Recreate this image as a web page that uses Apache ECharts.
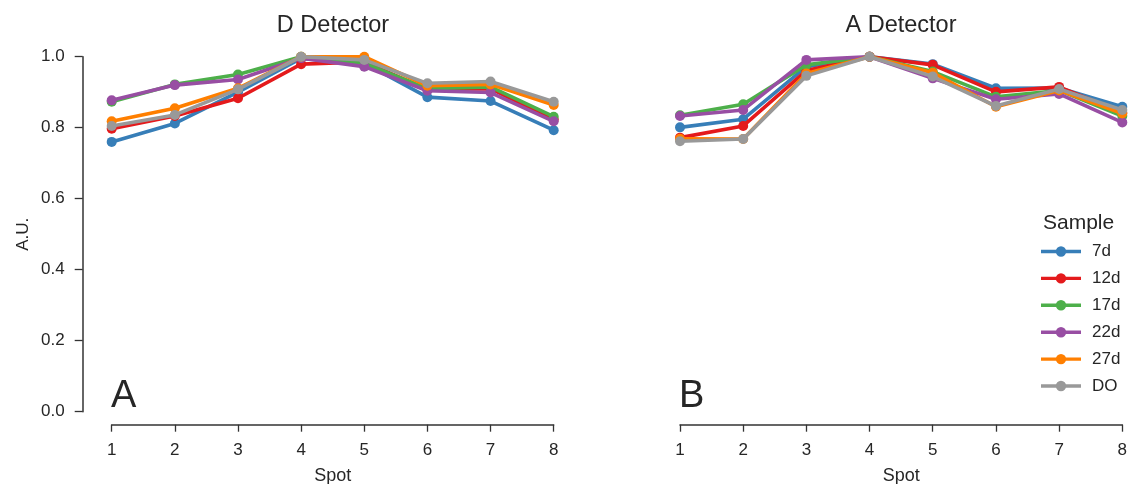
<!DOCTYPE html>
<html>
<head>
<meta charset="utf-8">
<script src="https://cdn.jsdelivr.net/npm/echarts@6/dist/echarts.min.js"></script>
<style>
  html, body { margin: 0; padding: 0; background: #fff; }
  #chart { width: 1128px; height: 484px; }
</style>
</head>
<body>
<div id="chart"></div>
<script>
// Spot positions along the x axis
const spots = [1, 2, 3, 4, 5, 6, 7, 8];

// Sample names and their colours
const samples = ['7d', '12d', '17d', '22d', '27d', 'DO'];
const colors = ['#377eb8', '#e41a1c', '#4daf4a', '#984ea3', '#ff7f00', '#999999'];

// D Detector: normalised response per sample
const d7d  = [0.760, 0.812, 0.900, 0.995, 0.982, 0.886, 0.875, 0.793];
const d12d = [0.797, 0.833, 0.883, 0.979, 0.985, 0.908, 0.910, 0.823];
const d17d = [0.873, 0.922, 0.950, 1.000, 0.982, 0.910, 0.915, 0.831];
const d22d = [0.877, 0.920, 0.936, 0.996, 0.972, 0.904, 0.899, 0.818];
const d27d = [0.818, 0.855, 0.911, 1.000, 1.000, 0.918, 0.922, 0.864];
const dDO  = [0.805, 0.836, 0.908, 1.000, 0.991, 0.925, 0.930, 0.873];

// A Detector: normalised response per sample
const a7d  = [0.801, 0.824, 0.972, 1.000, 0.979, 0.911, 0.912, 0.859];
const a12d = [0.772, 0.805, 0.961, 1.000, 0.977, 0.901, 0.915, 0.842];
const a17d = [0.835, 0.866, 0.977, 1.000, 0.958, 0.887, 0.905, 0.833];
const a22d = [0.833, 0.850, 0.991, 1.000, 0.939, 0.880, 0.895, 0.815];
const a27d = [0.769, 0.768, 0.953, 1.000, 0.955, 0.859, 0.905, 0.840];
const aDO  = [0.762, 0.768, 0.946, 1.000, 0.944, 0.861, 0.909, 0.850];

const dSeries = [d7d, d12d, d17d, d22d, d27d, dDO];
const aSeries = [a7d, a12d, a17d, a22d, a27d, aDO];

const FONT = '"Liberation Sans", Arial, sans-serif';
const TEXT = '#262626';
const AXIS = '#333333';

function xAxisFor(gridIndex) {
  return {
    type: 'value', gridIndex, min: 1, max: 8, interval: 1,
    offset: 13,
    name: 'Spot', nameLocation: 'middle', nameGap: 42,
    nameTextStyle: { color: TEXT, fontSize: 18, fontFamily: FONT },
    axisLine: { show: true, onZero: false, lineStyle: { color: AXIS, width: 1.5 } },
    axisTick: { show: true, length: 7, lineStyle: { color: AXIS, width: 1.3 } },
    axisLabel: { color: TEXT, fontSize: 17, fontFamily: FONT, margin: 17 },
    splitLine: { show: false }
  };
}

function yAxisFor(gridIndex, visible) {
  return {
    type: 'value', gridIndex, min: 0, max: 1, interval: 0.2,
    show: visible,
    offset: 29,
    name: 'A.U.', nameLocation: 'middle', nameGap: 51, nameRotate: 90,
    nameTextStyle: { color: TEXT, fontSize: 17, fontFamily: FONT },
    axisLine: { show: true, onZero: false, lineStyle: { color: AXIS, width: 1.5 } },
    axisTick: { show: true, length: 8, lineStyle: { color: AXIS, width: 1.3 } },
    axisLabel: {
      color: TEXT, fontSize: 17, fontFamily: FONT, margin: 18,
      formatter: v => v.toFixed(1)
    },
    splitLine: { show: false }
  };
}

function buildSeries(values, idx) {
  return values.map((vals, i) => ({
    name: samples[i],
    type: 'line',
    xAxisIndex: idx, yAxisIndex: idx,
    data: spots.map((s, k) => [s, vals[k]]),
    color: colors[i],
    lineStyle: { width: 3.6, color: colors[i] },
    symbol: 'circle', symbolSize: 10,
    itemStyle: { color: colors[i] },
    emphasis: { disabled: true },
    z: 2 + i
  }));
}

// legend marker: a short line with a dot in the middle
const legendIcon = 'path://M0,3.5h40v3.4h-40z M14.8,5.2a5.2,5.2 0 1,1 10.4,0a5.2,5.2 0 1,1 -10.4,0z';

const option = {
  animation: false,
  backgroundColor: '#ffffff',
  title: [
    { text: 'D Detector', left: 328, top: 9, textAlign: 'center',
      textStyle: { color: TEXT, fontSize: 23.5, fontWeight: 'normal', fontFamily: FONT } },
    { text: 'A Detector', left: 896, top: 9, textAlign: 'center',
      textStyle: { color: TEXT, fontSize: 23.5, fontWeight: 'normal', fontFamily: FONT } },
    { text: 'Sample', left: 1038, top: 208,
      textStyle: { color: TEXT, fontSize: 21, fontWeight: 'normal', fontFamily: FONT } }
  ],
  legend: {
    data: samples,
    orient: 'vertical',
    left: 1036, top: 238,
    icon: legendIcon,
    itemWidth: 40, itemHeight: 10.4,
    itemGap: 9.9,
    textStyle: { color: TEXT, fontSize: 17, fontFamily: FONT, padding: [0, 0, 0, 6] },
    selectedMode: false
  },
  grid: [
    { left: 111.7, top: 56.7, width: 442, height: 355, outerBoundsMode: 'none' },
    { left: 680, top: 56.7, width: 442.3, height: 355, outerBoundsMode: 'none' }
  ],
  xAxis: [xAxisFor(0), xAxisFor(1)],
  yAxis: [yAxisFor(0, true), yAxisFor(1, false)],
  graphic: [
    { type: 'text', left: 111, top: 378,
      style: { text: 'A', fill: TEXT, fontSize: 38, fontFamily: FONT } },
    { type: 'text', left: 679, top: 378,
      style: { text: 'B', fill: TEXT, fontSize: 38, fontFamily: FONT } }
  ],
  series: buildSeries(dSeries, 0).concat(buildSeries(aSeries, 1))
};

const chart = echarts.init(document.getElementById('chart'), null, { renderer: 'canvas' });
chart.setOption(option);
</script>
</body>
</html>
